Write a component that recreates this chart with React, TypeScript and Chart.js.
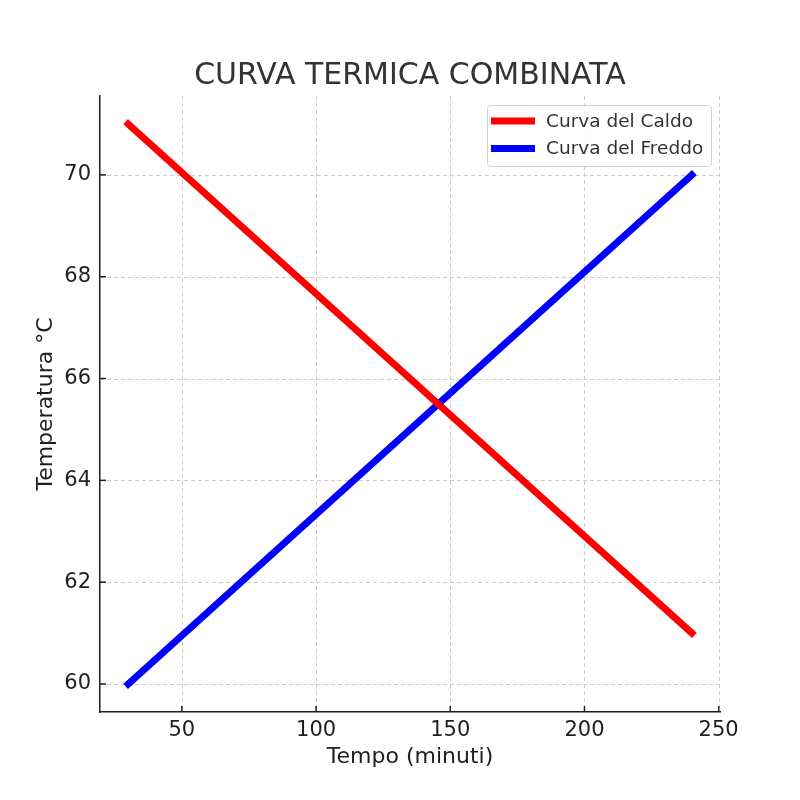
import { useEffect, useRef } from 'react'
import { Chart, registerables } from 'chart.js'

Chart.register(...registerables)

const TITLE = 'CURVA TERMICA COMBINATA'
const X_LABEL = 'Tempo (minuti)'
const Y_LABEL = 'Temperatura °C'

const TEMPO = [30, 240]
const CALDO = [71, 61]
const FREDDO = [60, 70]

const SERIES_NAMES = ['Curva del Caldo', 'Curva del Freddo']
const SERIES_COLORS = ['#ff0000', '#0000ff']

const X_TICKS = [50, 100, 150, 200, 250]
const Y_TICKS = [60, 62, 64, 66, 68, 70]

const FONT = '"DejaVu Sans", sans-serif'
const TEXT = '#1f1f1f'

// grid, inward tick marks, title, axis titles and the boxed legend (matplotlib look)
const decorations = {
  id: 'decorations',
  beforeDatasetsDraw(chart: Chart) {
    const { ctx, chartArea: a, scales } = chart
    const x = scales.x
    const y = scales.y
    ctx.save()
    ctx.strokeStyle = '#cccccc'
    ctx.lineWidth = 1
    ctx.setLineDash([4, 3])
    for (const v of X_TICKS) {
      const px = Math.round(x.getPixelForValue(v)) + 0.5
      ctx.beginPath()
      ctx.moveTo(px, a.top)
      ctx.lineTo(px, a.bottom)
      ctx.stroke()
    }
    for (const v of Y_TICKS) {
      const py = Math.round(y.getPixelForValue(v)) + 0.5
      ctx.beginPath()
      ctx.moveTo(a.left, py)
      ctx.lineTo(a.right, py)
      ctx.stroke()
    }
    ctx.setLineDash([])
    ctx.strokeStyle = TEXT
    ctx.lineWidth = 1.5
    for (const v of X_TICKS) {
      const px = x.getPixelForValue(v)
      ctx.beginPath()
      ctx.moveTo(px, a.bottom)
      ctx.lineTo(px, a.bottom - 6)
      ctx.stroke()
    }
    for (const v of Y_TICKS) {
      const py = y.getPixelForValue(v)
      ctx.beginPath()
      ctx.moveTo(a.left, py)
      ctx.lineTo(a.left + 6, py)
      ctx.stroke()
    }
    ctx.restore()
  },
  afterDraw(chart: Chart) {
    const { ctx, chartArea: a } = chart
    ctx.save()
    ctx.fillStyle = '#333333'
    ctx.textAlign = 'center'
    ctx.textBaseline = 'middle'
    ctx.font = `30px ${FONT}`
    ctx.fillText(TITLE, (a.left + a.right) / 2, 76)

    ctx.fillStyle = TEXT
    ctx.font = `22px ${FONT}`
    ctx.fillText(X_LABEL, (a.left + a.right) / 2, 757)
    ctx.translate(46, (a.top + a.bottom) / 2)
    ctx.rotate(-Math.PI / 2)
    ctx.fillText(Y_LABEL, 0, 0)
    ctx.restore()

    // legend
    ctx.save()
    const bx = 487, by = 105, bw = 224, bh = 61
    ctx.beginPath()
    ctx.roundRect(bx + 0.5, by + 0.5, bw, bh, 3)
    ctx.fillStyle = 'rgba(255,255,255,0.85)'
    ctx.fill()
    ctx.strokeStyle = '#d0d0d0'
    ctx.lineWidth = 1
    ctx.stroke()
    ctx.font = `18.5px ${FONT}`
    ctx.textBaseline = 'middle'
    ctx.textAlign = 'left'
    SERIES_NAMES.forEach((name, i) => {
      const ly = 121 + i * 27.5
      ctx.strokeStyle = SERIES_COLORS[i]
      ctx.lineWidth = 7
      ctx.beginPath()
      ctx.moveTo(491, ly)
      ctx.lineTo(535, ly)
      ctx.stroke()
      ctx.fillStyle = '#333333'
      ctx.fillText(name, 546, ly + 1)
    })
    ctx.restore()
  },
}

export default function App() {
  const canvasRef = useRef<HTMLCanvasElement>(null)
  const chartRef = useRef<Chart | null>(null)

  useEffect(() => {
    document.body.style.margin = '0'
    if (!canvasRef.current) return
    if (chartRef.current) chartRef.current.destroy()

    const series = [CALDO, FREDDO]

    chartRef.current = new Chart(canvasRef.current, {
      type: 'line',
      data: {
        datasets: series.map((vals, i) => ({
          label: SERIES_NAMES[i],
          data: TEMPO.map((t, j) => ({ x: t, y: vals[j] })),
          borderColor: SERIES_COLORS[i],
          backgroundColor: SERIES_COLORS[i],
          borderWidth: 7,
          borderCapStyle: 'square' as const,
          pointRadius: 0,
          tension: 0,
        })),
      },
      options: {
        responsive: false,
        animation: false,
        devicePixelRatio: 1,
        layout: { padding: { left: 0, right: 80, top: 96, bottom: 0 } },
        plugins: {
          legend: { display: false },
          title: { display: false },
          tooltip: { enabled: false },
        },
        scales: {
          x: {
            type: 'linear',
            min: 19.5,
            max: 250.5,
            afterBuildTicks: (s: any) => {
              s.ticks = X_TICKS.map(v => ({ value: v }))
            },
            afterFit: (s: any) => {
              s.height = 88
            },
            grid: { display: false, drawTicks: false },
            border: { display: true, color: TEXT, width: 1.5 },
            ticks: {
              padding: 6,
              color: TEXT,
              font: { family: FONT, size: 21 },
              maxRotation: 0,
              autoSkip: false,
            },
          },
          y: {
            type: 'linear',
            min: 59.45,
            max: 71.55,
            afterBuildTicks: (s: any) => {
              s.ticks = Y_TICKS.map(v => ({ value: v }))
            },
            afterFit: (s: any) => {
              s.width = 100
            },
            grid: { display: false, drawTicks: false },
            border: { display: true, color: TEXT, width: 1.5 },
            ticks: {
              padding: 9,
              color: TEXT,
              font: { family: FONT, size: 21 },
              autoSkip: false,
            },
          },
        },
      },
      plugins: [decorations],
    })

    return () => {
      if (chartRef.current) {
        chartRef.current.destroy()
        chartRef.current = null
      }
    }
  }, [])

  return (
    <div style={{ width: 800, height: 800, background: '#ffffff' }}>
      <canvas ref={canvasRef} width={800} height={800} />
    </div>
  )
}
